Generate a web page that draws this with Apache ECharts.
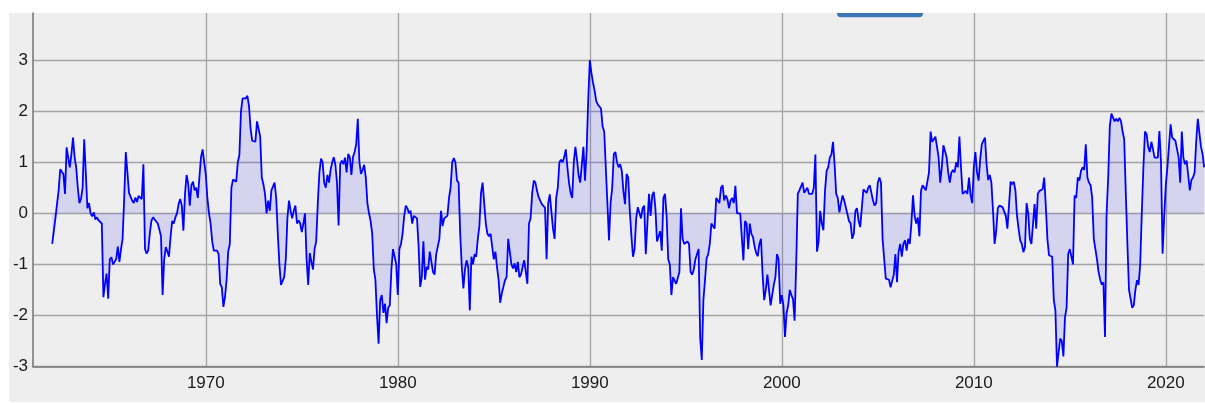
<!DOCTYPE html>
<html>
<head>
<meta charset="utf-8">
<script src="https://cdn.jsdelivr.net/npm/echarts@6/dist/echarts.min.js"></script>
<style>
html,body{margin:0;padding:0;background:#ffffff;}
#chart{width:1205px;height:403px;}
</style>
</head>
<body>
<div id="chart"></div>
<script>
// Monthly categories: 1961-01 .. 2022-01
const startYear = 1961;
const endYear = 2022;
const yTickLabels = [-3, -2, -1, 0, 1, 2, 3];
const xTickYears = [1970, 1980, 1990, 2000, 2010, 2020];

// Values by period (monthly)
const s1961 = [null,null,null,null,null,null,null,null,null,null,null,null];
const s1962 = [
 -0.6,-0.63,-0.1,0.18,0.44,0.86,0.86,0.77,
 0.38,1.29,1.26,0.9,1.16,1.48,1.1,0.9,0.5,0.2,
 0.28,0.5,1.45,0.8,0.1,0.2,0.0,-0.06,0.02,-0.12,
 -0.08,-0.14,-0.11,-0.2,-1.64,-1.38,-1.18,-1.67,-0.9,-0.86,
 -1.0,-0.95,-0.9,-0.65,-0.95,-0.7,-0.5,0.3,1.2,0.8,
 0.4,0.42,0.25,0.2,0.31,0.22,0.34,0.31,0.28,0.96,
 -0.7,-0.79,-0.73,-0.4,-0.15,-0.08,-0.05,-0.16,-0.2,-0.32,
 -0.45,-1.6,-0.9,-0.66,-0.75,-0.85,-0.45,-0.15,-0.2,-0.08,
 0.0,0.18,0.28,0.15,-0.34,0.38,0.75,0.58,0.15,0.55,
 0.62,0.45,0.5,0.3,0.7,1.1,1.25,1.0
];
const s1970 = [
 0.75,0.3,
 0.0,-0.2,-0.55,-0.73,-0.76,-0.73,-0.8,-1.38,-1.45,-1.83,
 -1.64,-1.3,-0.75,-0.6,0.5,0.66,0.64,0.62,1.0,1.14,
 2.0,2.25,2.27,2.25,2.3,2.1,1.65,1.42,1.45,1.4,
 1.8,1.65,1.5,0.7,0.57,0.38,0.0,0.25,0.05,0.45,
 0.45,0.6,0.3,-0.4,-1.0,-1.4,-1.38,-1.25,-0.9,-0.1,
 0.25,0.05,-0.1,0.05,0.15,-0.2,-0.14,-0.2,-0.37,-0.2,
 0.0,-0.9,-1.4,-0.78,-0.95,-1.1,-0.7,-0.55,0.2,0.8,
 1.07,1.0,0.6,0.5,0.75,0.6,0.85,1.0,1.1,0.95,
 0.6,-0.24,0.96,1.03,0.96,1.09,0.8,1.16,1.1,0.75,
 1.1,1.2,1.35,1.85,1.0,0.77,0.85,0.95,0.7,0.2,
 0.0,-0.15,-0.4,-1.1,-1.3,-2.0,-2.55,-1.7,-1.6,-1.95,
 -1.77,-2.15,-1.85,-1.8,-1.1,-0.7,-0.85,-1.0
];
const s1980 = [
 -1.6,-0.7,
 -0.6,-0.4,-0.05,0.15,0.1,0.0,0.05,-0.2,-0.05,-0.05,
 -0.1,-0.65,-1.44,-1.25,-0.55,-1.3,-1.05,-1.1,-0.75,-0.95,
 -1.15,-1.2,-0.8,-0.79,-0.5,0.05,-0.25,-0.1,-0.08,-0.05,
 0.3,0.5,1.0,1.08,1.0,0.64,0.6,-0.4,-1.05,-1.47,
 -1.1,-0.92,-1.05,-1.9,-0.85,-1.0,-0.8,-0.85,-0.5,-0.25,
 0.4,0.6,0.2,-0.2,-0.4,-0.45,-0.4,-0.65,-0.9,-0.75,
 -1.05,-1.3,-1.75,-1.57,-1.44,-1.31,-1.25,-0.5,-0.47,-1.0,
 -1.08,-0.98,-1.15,-0.95,-1.25,-1.2,-1.05,-0.92,-0.95,-1.38,
 -0.2,-0.1,0.4,0.64,0.6,0.44,0.32,0.25,0.18,0.18,
 0.11,-0.9,0.2,0.37,0.35,-0.3,-0.5,0.3,0.5,1.0,
 1.05,1.0,1.1,1.25,0.9,0.6,0.4,0.3,1.0,1.3,
 1.05,0.75,0.6,0.62,1.3,0.64,1.2,2.2
];
const s1990 = [
 3.0,2.75,
 2.56,2.4,2.2,2.13,2.12,2.05,1.7,1.6,1.6,0.2,
 -0.53,0.2,0.5,1.16,1.2,1.0,0.9,0.96,0.83,0.44,
 0.18,0.77,0.7,0.05,-0.45,-0.85,-0.7,-0.1,0.12,0.12,
 -0.1,0.1,0.15,-0.8,-0.2,0.38,-0.05,0.35,0.42,0.1,
 -0.55,-0.57,-0.35,-0.73,0.3,0.38,-0.05,-0.9,-1.0,-1.6,
 -1.25,-1.32,-1.38,-1.35,-1.15,0.1,-0.5,-0.6,-0.6,-0.55,
 -0.6,-1.15,-1.2,-1.1,-0.9,-0.8,-0.7,-2.45,-2.87,-1.7,
 -1.31,-0.88,-0.8,-0.6,-0.2,-0.2,-0.3,0.3,0.3,0.2,
 0.5,0.55,0.25,0.35,0.28,0.1,0.25,0.3,0.2,0.54,
 0.0,-0.03,0.0,-0.47,-0.92,-0.15,-0.2,-0.7,-0.2,-0.4,
 -0.47,-0.65,-0.78,-0.84,-0.6,-0.5,-1.2,-1.7,-1.5,-1.2,
 -1.5,-1.8,-1.8,-1.4,-1.25,-0.8,-0.9,-1.77
];
const s2000 = [
 -1.6,-1.8,
 -2.42,-1.95,-1.8,-1.5,-1.6,-1.68,-2.1,-1.0,0.38,0.45,
 0.45,0.6,0.4,0.4,0.5,0.38,0.38,0.38,0.5,1.15,
 -0.75,-0.55,0.05,-0.2,-0.33,0.44,0.83,0.9,1.09,1.15,
 1.4,0.95,0.38,0.3,0.02,0.2,0.35,0.25,0.12,0.12,
 -0.15,-0.2,-0.5,-0.4,0.05,0.1,-0.15,-0.27,-0.3,0.47,
 0.45,0.4,0.5,0.55,0.4,0.25,0.15,0.2,0.6,0.7,
 0.6,-0.5,-0.9,-1.28,-1.25,-1.3,-1.45,-1.45,-1.2,-0.8,
 -1.35,-0.75,-0.6,-0.85,-0.6,-0.53,-0.73,-0.5,-0.6,-0.2,
 0.35,-0.05,-0.2,-0.08,-0.45,0.44,0.55,0.5,0.45,0.45,
 0.8,1.6,1.4,1.45,1.5,1.3,1.1,0.6,0.9,1.33,
 1.3,1.1,0.8,0.6,0.8,0.85,0.8,1.0,0.9,1.5,
 0.9,0.38,0.38,0.44,0.38,0.7,0.35,0.2
];
const s2010 = [
 0.9,1.2,
 0.8,0.64,1.05,1.35,1.42,1.48,0.95,0.65,0.75,0.6,
 0.05,-0.6,-0.35,0.1,0.15,0.15,0.12,0.1,-0.05,-0.3,
 -0.3,0.62,0.57,0.62,0.45,-0.05,-0.3,-0.53,-0.6,-0.76,
 -0.66,0.2,0.0,-0.5,-0.6,-0.6,0.18,-0.3,0.38,0.44,
 0.44,0.47,0.7,0.15,-0.5,-0.82,-0.8,-0.85,-1.7,-1.9,
 -3.0,-3.0,-2.45,-2.5,-2.8,-2.03,-1.85,-0.8,-0.7,-0.85,
 -1.0,0.35,0.3,0.7,0.64,0.83,0.9,0.85,1.35,0.7,
 0.6,0.55,0.3,-0.5,-0.5,-0.9,-1.15,-1.3,-1.4,-1.35,
 -2.42,0.0,0.7,1.7,1.95,1.98,1.8,1.85,1.8,1.87,
 1.8,1.6,1.45,0.4,-0.6,-1.5,-1.5,-1.85,-1.8,-1.5,
 -1.31,-1.4,-1.0,0.0,0.9,1.6,1.55,1.3,1.2,1.4,
 1.25,1.09,1.12,1.09,1.61,1.0,-0.79,-0.05
];
const s2020 = [
 0.55,0.9,0.9,1.74,1.48,1.48,1.42,1.45,1.1,0.6,
 1.6,1.09,0.96,1.03,0.75,0.45,0.65,0.7,0.8,1.4,
 1.85,1.82,1.3,1.16,0.9
];

const categories = [];
for (let y = startYear; y <= endYear; y++) {
  for (let mo = 1; mo <= 12; mo++) {
    if (y === endYear && mo > 1) break;
    categories.push(y + '-' + (mo < 10 ? '0' + mo : '' + mo));
  }
}
const values = [].concat(s1961, s1962, s1970, s1980, s1990, s2000, s2010, s2020);

function isDecadeTick(index, value) {
  const yr = parseInt(value.slice(0, 4), 10);
  return value.slice(5) === '01' && xTickYears.indexOf(yr) >= 0;
}

const chart = echarts.init(document.getElementById('chart'), null, {renderer: 'canvas'});
chart.setOption({
  animation: false,
  backgroundColor: '#ffffff',
  graphic: [
    {type: 'rect', z: -10, silent: true, shape: {x: 9, y: 13, width: 1196, height: 389}, style: {fill: '#eeeeee'}},
    {type: 'rect', z: 100, silent: true, shape: {x: 837, y: 13, width: 86, height: 4.3, r: [0, 0, 4, 4]}, style: {fill: '#3b77b5'}}
  ],
  grid: {left: 33, top: 13, width: 1171.2, height: 353.6, containLabel: false},
  xAxis: {
    type: 'category',
    data: categories,
    boundaryGap: false,
    axisLine: {onZero: false, lineStyle: {color: '#7a7a7a', width: 1.6}},
    axisTick: {show: false},
    axisLabel: {
      interval: isDecadeTick,
      formatter: v => v.slice(0, 4),
      color: '#1a1a1a',
      fontSize: 17,
      fontFamily: 'Liberation Sans, Arial, sans-serif',
      margin: 8
    },
    splitLine: {show: true, interval: isDecadeTick, lineStyle: {color: '#a4a4a4', width: 1.3}}
  },
  yAxis: {
    type: 'value',
    min: -3,
    max: 3.92,
    interval: 1,
    axisLine: {show: true, lineStyle: {color: '#7a7a7a', width: 1.6}},
    axisTick: {show: false},
    axisLabel: {
      showMaxLabel: false,
      formatter: v => (yTickLabels.indexOf(Math.round(v * 100) / 100) >= 0 ? String(Math.round(v)) : ''),
      color: '#1a1a1a',
      fontSize: 17,
      fontFamily: 'Liberation Sans, Arial, sans-serif',
      margin: 5
    },
    splitLine: {show: true, showMaxLine: false, lineStyle: {color: '#a4a4a4', width: 1.3}}
  },
  series: [{
    type: 'line',
    data: values,
    showSymbol: false,
    symbol: 'none',
    connectNulls: false,
    lineStyle: {color: '#0000ff', width: 1.8},
    areaStyle: {color: 'rgba(0,0,255,0.15)', origin: 'auto'},
    emphasis: {disabled: true}
  }]
});
</script>
</body>
</html>
